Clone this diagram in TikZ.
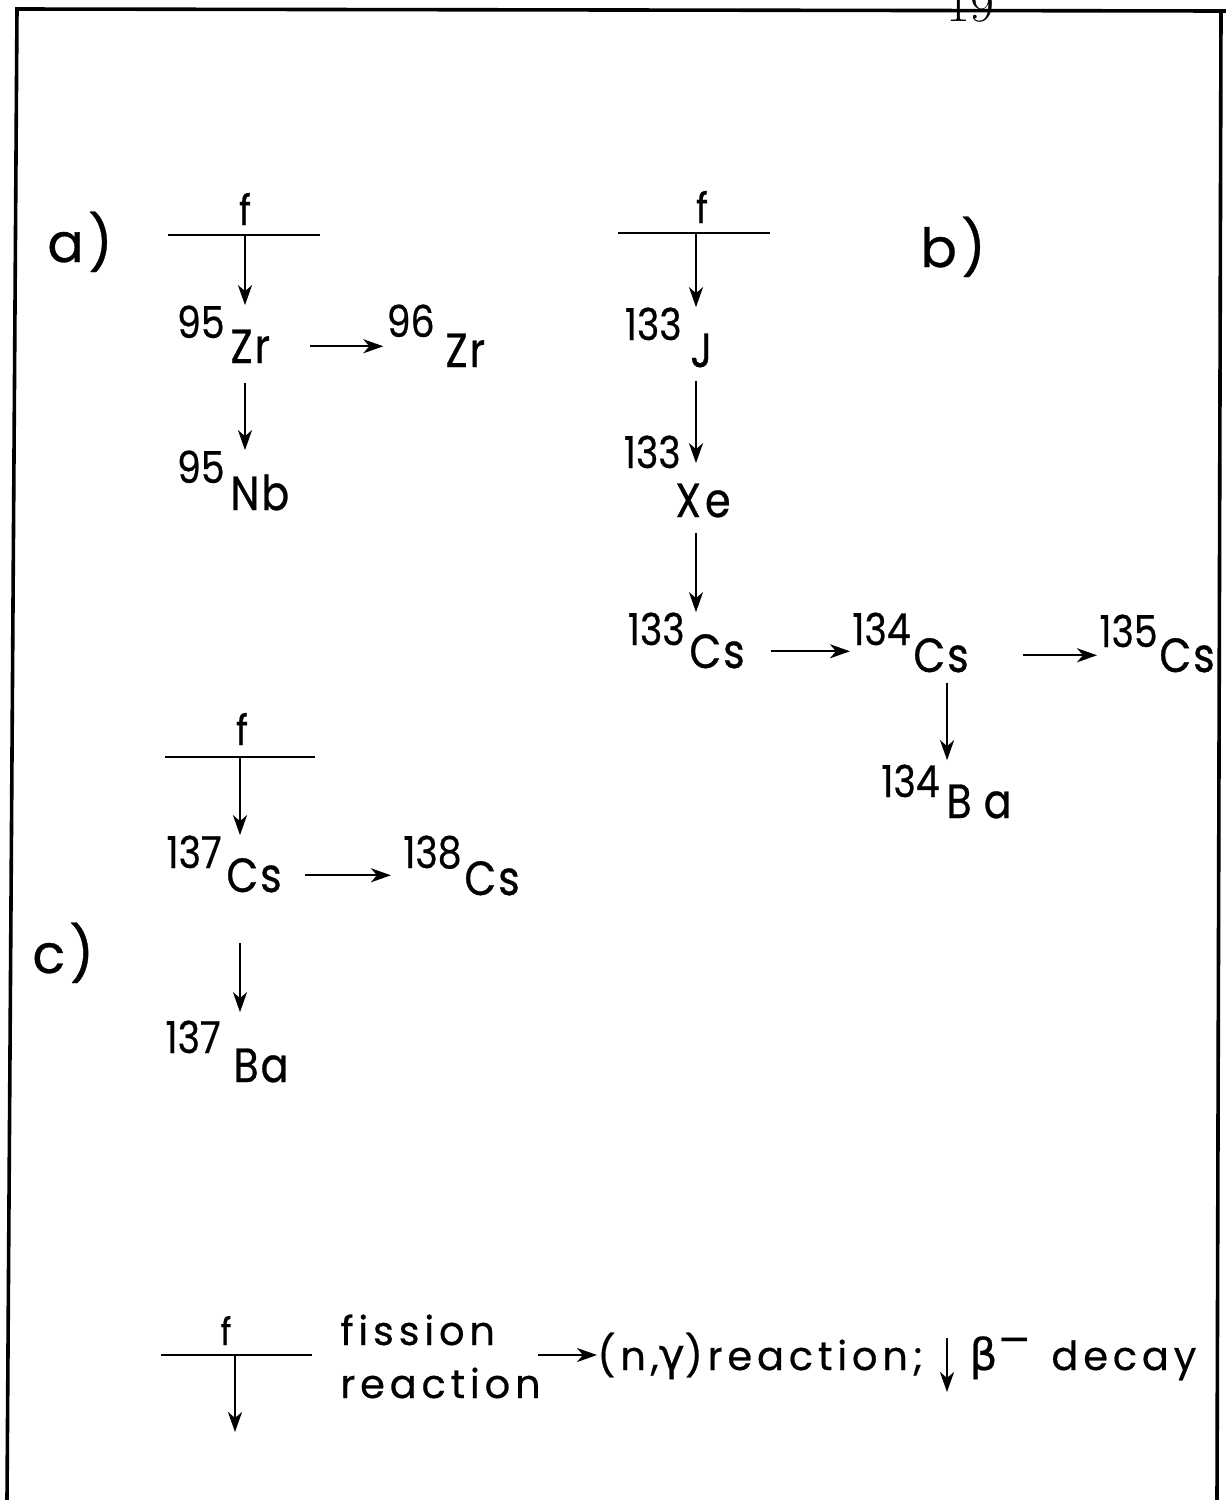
\documentclass[tikz,border=0pt]{standalone}
\usepackage{fontspec}
\newfontfamily\symfont[FakeStretch=0.86,FakeBold=0.6,LetterSpace=4]{Poppins}
\newfontfamily\fisfont[FakeStretch=0.86,FakeBold=0.6]{Poppins}
\newfontfamily\massfont[FakeStretch=0.86,FakeBold=0.6]{Poppins}
\newfontfamily\labfont[LetterSpace=8,FakeBold=0.6]{Poppins}
\newfontfamily\legfont[LetterSpace=12,FakeBold=0.5]{Poppins}
\newfontfamily\greekface[FakeBold=0.5]{DejaVu Sans}
\usetikzlibrary{arrows.meta,calc}
\begin{document}
\begin{tikzpicture}[x=0.5pt,y=-0.5pt,
  sym/.style={inner sep=0pt, anchor=base west, font=\symfont\fontsize{24}{24}\selectfont},
  mass/.style={inner sep=0pt, anchor=base east, font=\massfont\fontsize{22}{22}\selectfont},
  lbl/.style={inner sep=0pt, anchor=base west, font=\labfont\fontsize{27}{27}\selectfont},
  fis/.style={inner sep=0pt, anchor=base, font=\fisfont\fontsize{21}{21}\selectfont},
  leg/.style={inner sep=0pt, anchor=base west, font=\legfont\fontsize{20}{20}\selectfont},
  pagenum/.style={inner sep=0pt, anchor=base west, font=\fontsize{26}{26}\selectfont},
  fline/.style={line width=1.4pt},
  frame/.style={line width=1.8pt},
  arr/.style={line width=1.2pt, -{Stealth[length=10pt,width=7pt,inset=3pt]}}]
\useasboundingbox (0,0) rectangle (1226,1500);
\fill[white] (0,0) rectangle (1226,1500);

% frame and page number
\node[pagenum] (pg) at (946,21) {19};
\draw[frame] (1226,11) -- (17,9) -- (7,1500);
\draw[frame] (1221,11) -- (1217,1500);

% ---------- a) ----------
\node[lbl] (la) at (47,262) {a)};
\node[fis] (fA) at (245,225) {f};
\coordinate (fa) at (245,235);
\draw[fline] (168,235) -- (320,235);
\node[mass] (m95zr) at (225,338) {95};
\node[sym] (zr95) at (230,363) {Zr};
\node[mass] (m96zr) at (435,337) {96};
\node[sym] (zr96) at (445,367) {Zr};
\node[mass] (m95nb) at (225,483) {95};
\node[sym] (nb95) at (230,510) {Nb};
\draw[arr] (fa) -- (fa |- m95zr.north);
\draw[arr, shorten <=20pt, shorten >=1.5pt] (zr95.east) -- (zr95.east -| m96zr.west);
\draw[arr, shorten <=10pt] (fa |- zr95.south) -- (fa |- m95nb.north);

% ---------- b) ----------
\node[lbl] (lb) at (920,267) {b)};
\node[fis] (fB) at (702,223) {f};
\coordinate (fb) at (696,233);
\draw[fline] (618,233) -- (770,233);
\node[mass] (m133j) at (682,340) {133};
\node[sym] (j133) at (690,367) {J};
\node[mass] (m133xe) at (681,468) {133};
\node[sym] (xe133) at (675,517) {X\kern2pt e};
\node[mass] (m133cs) at (685,645) {133};
\node[sym] (cs133) at (689,668) {Cs};
\node[mass] (m134cs) at (911,645) {134};
\node[sym] (cs134) at (913,672) {Cs};
\node[mass] (m135cs) at (1158,647) {135};
\node[sym] (cs135) at (1159,672) {Cs};
\node[mass] (m134ba) at (940,797) {134};
\node[sym] (ba134) at (946,818) {B\kern6pt a};
\draw[arr] (fb) -- (fb |- m133j.north);
\draw[arr, shorten <=6.5pt, shorten >=10pt] (fb |- j133.south) -- (fb |- xe133.north);
\draw[arr, shorten <=7.5pt] (fb |- xe133.south) -- (fb |- m133cs.north);
\draw[arr, shorten <=13pt, shorten >=1pt] (cs133.east) -- (cs133.east -| m134cs.west);
\draw[arr, shorten <=27pt, shorten >=1pt] (cs134.east) -- (cs134.east -| m135cs.west);
\draw[arr, shorten <=5pt, shorten >=2pt] ([xshift=3pt]cs134.south) -- ([xshift=3pt]cs134.south |- m134ba.north);

% ---------- c) ----------
\node[lbl] (lc) at (32,973) {c)};
\node[fis] (fC) at (242,745) {f};
\coordinate (fc) at (240,757);
\draw[fline] (165,757) -- (315,757);
\node[mass] (m137cs) at (222,868) {137};
\node[sym] (cs137) at (226,892) {Cs};
\node[mass] (m138cs) at (462,868) {138};
\node[sym] (cs138) at (464,895) {Cs};
\node[mass] (m137ba) at (221,1053) {137};
\node[sym] (ba137) at (233,1082) {Ba};
\draw[arr] (fc) -- (fc |- m137cs.north);
\draw[arr, shorten <=11.5pt, shorten >=6pt] (cs137.east) -- (cs137.east -| m138cs.west);
\draw[arr, shorten <=25pt, shorten >=4pt] (fc |- cs137.south) -- (fc |- m137ba.north);

% ---------- legend ----------
\node[fis, font=\fisfont\fontsize{19}{19}\selectfont] (fL) at (226,1345) {f};
\coordinate (fl) at (235,1355);
\coordinate (flend) at (235,1432);
\draw[fline] (161,1355) -- (312,1355);
\draw[arr] (fl) -- (flend);
\node[leg] (fission) at (340,1345) {fission};
\node[leg] (reaction) at (340,1398) {reaction};
\coordinate (nstart) at (538,1355);
\node[leg] (ngamma) at (597,1370) {(n,{\greekface\fontsize{22}{22}\selectfont γ})reaction;};
\draw[arr] (nstart) -- (nstart -| ngamma.west);
\coordinate (bstart) at (947,1338);
\coordinate (bend) at (947,1392);
\draw[arr] (bstart) -- (bend);
\node[leg] (beta) at (969,1370) {{\greekface\fontsize{22}{22}\selectfont β}\raisebox{9pt}{\greekface −}};
\node[leg] (decay) at (1051,1370) {decay};
\end{tikzpicture}
\end{document}
